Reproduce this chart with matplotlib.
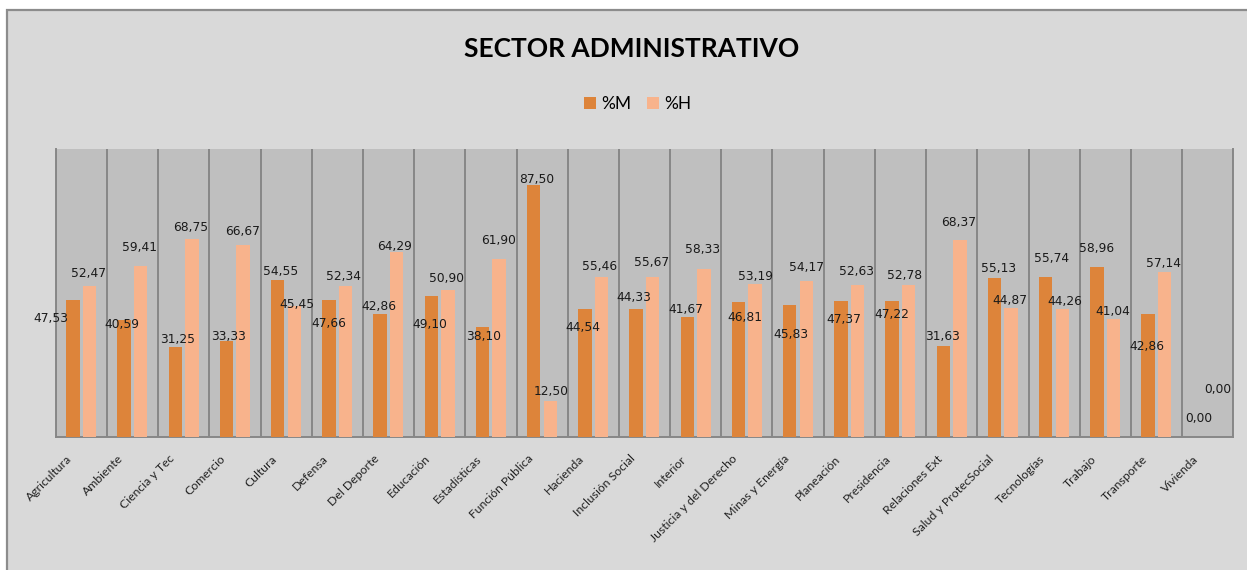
import matplotlib
matplotlib.use("Agg")
import matplotlib.pyplot as plt
from matplotlib.patches import Rectangle
from matplotlib.transforms import ScaledTranslation
import numpy as np

categories = ["Agricultura", "Ambiente", "Ciencia y Tec", "Comercio", "Cultura", "Defensa",
              "Del Deporte", "Educación", "Estadísticas", "Función Pública", "Hacienda",
              "Inclusión Social", "Interior", "Justicia y del Derecho", "Minas y Energía",
              "Planeación", "Presidencia", "Relaciones Ext", "Salud y ProtecSocial",
              "Tecnologías", "Trabajo", "Transporte", "Vivienda"]
pct_m = [47.53, 40.59, 31.25, 33.33, 54.55, 47.66, 42.86, 49.10, 38.10, 87.50, 44.54,
         44.33, 41.67, 46.81, 45.83, 47.37, 47.22, 31.63, 55.13, 55.74, 58.96, 42.86, 0.00]
pct_h = [52.47, 59.41, 68.75, 66.67, 45.45, 52.34, 64.29, 50.90, 61.90, 12.50, 55.46,
         55.67, 58.33, 53.19, 54.17, 52.63, 52.78, 68.37, 44.87, 44.26, 41.04, 57.14, 0.00]
series_names = ["%M", "%H"]
title = "SECTOR ADMINISTRATIVO"

# label placement offsets (pixels; dx right, dy down from bar top)
m_label_dx = [-22, -2, 2, 2, 3, 0, -1, -1, 1, 3, -2, -2, -1, 6, 1, 3, 0, -1, 4, 6, 0, -1, 0]
m_label_dy = [18, 4, -7, -4, -8, 24, -7, 29, 9, -6, 19, -12, -7, 15, 30, 19, 14, -9, -10, -18, -19, 33, -18]
h_label_dx = [-1, -1, -1, -1, 3, -2, -2, -1, -1, 1, -2, -1, -1, 0, 0, -1, -4, -1, -1, 3, -1, -1, 2]
h_label_dy = [-12, -18, -12, -14, -2, -10, -5, -12, -18, -9, -11, -14, -20, -7, -14, -14, -10, -18, -7, -8, -7, -9, -47]

COL_M = "#DD843A"
COL_H = "#F8B38C"

W, H = 1247, 570
fig = plt.figure(figsize=(W / 100, H / 100), dpi=100, facecolor="white")
bg = Rectangle((7 / W, -0.05), 1.1, 1 - 10 / H + 0.05, transform=fig.transFigure,
               facecolor="#D9D9D9", edgecolor="#8C8C8C", linewidth=1.6, zorder=-10)
fig.add_artist(bg)

ax = fig.add_axes([55.7 / W, (H - 436.7) / H, 1177.6 / W, 287.4 / H])
ax.set_zorder(1)
ax.set_facecolor("#BFBFBF")
n = len(categories)
x = np.arange(n)
bw = 0.26
ax.bar(x - 0.165, pct_m, bw, color=COL_M, label=series_names[0], zorder=3)
ax.bar(x + 0.16, pct_h, bw, color=COL_H, label=series_names[1], zorder=3)
ax.set_xlim(-0.5, n - 0.5)
ax.set_ylim(0, 100)
ax.set_yticks([])
ax.set_xticks(x)
ax.set_xticklabels(categories, rotation=45, ha="right", va="top", rotation_mode="anchor",
                   fontsize=8.8, family="Lato", color="#222222")
ax.tick_params(axis="x", length=0, pad=9)
shift = ScaledTranslation(-15 / 100, -4 / 100, fig.dpi_scale_trans)
for lab in ax.get_xticklabels():
    lab.set_transform(lab.get_transform() + shift)
ax.set_xticks(np.arange(-0.5, n, 1.0), minor=True)
ax.tick_params(axis="x", which="minor", length=0)
ax.grid(axis="x", which="minor", color="#878787", linewidth=1.4, zorder=1)
for s in ["left", "right", "bottom"]:
    ax.spines[s].set_color("#878787")
    ax.spines[s].set_linewidth(1.4)
ax.spines["top"].set_visible(False)

def fmt(v):
    return f"{v:.2f}".replace(".", ",")

for i in range(n):
    ax.annotate(fmt(pct_m[i]), (x[i] - 0.165, pct_m[i]), xytext=(m_label_dx[i], -m_label_dy[i]),
                textcoords="offset pixels", ha="center", va="center", fontsize=8.8,
                color="#1a1a1a", zorder=5)
    ax.annotate(fmt(pct_h[i]), (x[i] + 0.16, pct_h[i]), xytext=(h_label_dx[i], -h_label_dy[i]),
                textcoords="offset pixels", ha="center", va="center", fontsize=8.8,
                color="#1a1a1a", zorder=5)

fig.text(632 / W, 1 - 49 / H, title, ha="center", va="center", fontsize=19,
         fontweight="bold", family="Lato", color="black")
fig.legend(loc="center", bbox_to_anchor=(638 / W, 1 - 104 / H), ncol=2, frameon=False,
           handlelength=0.7, handleheight=0.7, handletextpad=0.3, columnspacing=0.9,
           prop={"family": "Lato", "size": 12.5})

fig.savefig("out.png", dpi=100, facecolor=fig.get_facecolor())
